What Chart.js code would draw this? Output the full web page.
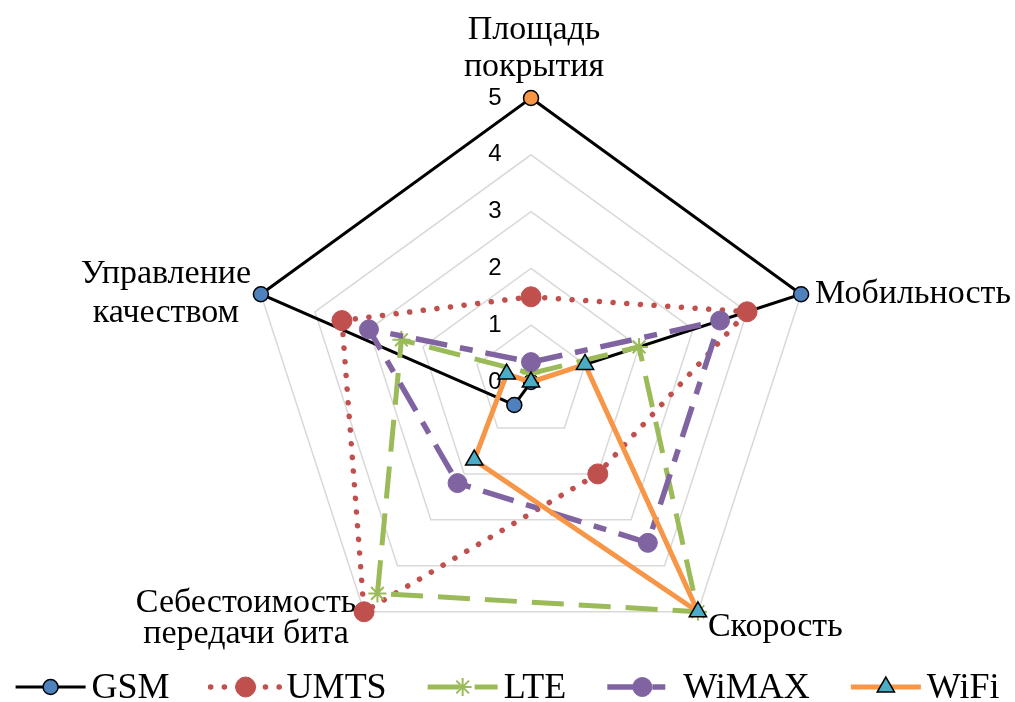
<!DOCTYPE html>
<html>
<head>
<meta charset="utf-8">
<script src="https://cdn.jsdelivr.net/npm/chart.js@4.4.1/dist/chart.umd.min.js"></script>
<style>
  html, body { margin: 0; padding: 0; background: #fff; }
  canvas { display: block; }
</style>
</head>
<body>
<canvas id="radar" width="1015" height="702"></canvas>
<script>
// Axes of the radar, clockwise from the top (multi-line captions)
const categories = [
  ['Площадь', 'покрытия'],
  ['Мобильность'],
  ['Скорость'],
  ['Себестоимость', 'передачи бита'],
  ['Управление', 'качеством']
];

// Ratings per technology, same order as the axes
const seriesNames = ['GSM', 'UMTS', 'LTE', 'WiMAX', 'WiFi'];
const gsmValues   = [5,    5,   0,   0.5, 5];
const umtsValues  = [1.5,  4,   2,   5,   3.5];
const lteValues   = [0.15, 2,   5,   4.6, 2.4];
const wimaxValues = [0.35, 3.5, 3.5, 2.2, 3];
const wifiValues  = [0,    1,   5,   1.7, 0.45];

// Radial scale range and tick step (tick labels 0..5)
const scaleMin = 0;
const scaleMax = 5;
const scaleStep = 1;

// Caption placement relative to the outer vertex of each axis
const captionLayout = [
  { dx: 3,    dy: [-59, -22], align: 'center' },
  { dx: 14,   dy: [9],        align: 'left' },
  { dx: 10,   dy: [24],       align: 'left' },
  { dx: -118, dy: [0, 31],    align: 'center' },
  { dx: -95,  dy: [-11, 28],  align: 'center' }
];

const serif = '"Liberation Serif", "Times New Roman", serif';
const sans = '"Liberation Sans", Arial, sans-serif';

// Tick numbers beside the vertical axis and the axis captions
const axisText = {
  id: 'axisText',
  beforeDatasetsDraw(chart) {
    const s = chart.scales.r;
    const ctx = chart.ctx;
    ctx.save();
    ctx.fillStyle = '#000';
    ctx.font = '24px ' + sans;
    ctx.textAlign = 'center';
    ctx.textBaseline = 'middle';
    s.ticks.forEach(t => {
      const p = s.getPointPosition(0, s.getDistanceFromCenterForValue(t.value));
      ctx.fillText(String(t.label), p.x - 36, p.y);
    });
    ctx.font = '34px ' + serif;
    ctx.textBaseline = 'alphabetic';
    chart.data.labels.forEach((lines, i) => {
      const p = s.getPointPosition(i, s.drawingArea);
      const L = captionLayout[i];
      ctx.textAlign = L.align;
      lines.forEach((line, k) => ctx.fillText(line, p.x + L.dx, p.y + L.dy[k]));
    });
    ctx.restore();
  }
};

// Legend row with line-and-marker swatches
const lineLegend = {
  id: 'lineLegend',
  afterDraw(chart) {
    const ctx = chart.ctx;
    const y = 687, sw = 70, tg = 6, ig = 41;
    ctx.save();
    ctx.font = '36px ' + serif;
    const sets = chart.data.datasets;
    const widths = sets.map(d => ctx.measureText(d.label).width);
    const total = widths.reduce((a, w) => a + w + sw + tg, 0) + ig * (sets.length - 1);
    let x = (chart.width - total) / 2;
    sets.forEach((d, i) => {
      ctx.save();
      ctx.strokeStyle = d.borderColor;
      ctx.lineWidth = d.borderWidth;
      ctx.lineCap = d.borderCapStyle || 'butt';
      ctx.setLineDash(d.borderDash || []);
      ctx.beginPath();
      ctx.moveTo(x, y);
      ctx.lineTo(x + sw, y);
      ctx.stroke();
      ctx.setLineDash([]);
      const bg = Array.isArray(d.pointBackgroundColor)
        ? d.pointBackgroundColor[d.pointBackgroundColor.length - 1]
        : d.pointBackgroundColor;
      ctx.fillStyle = bg;
      ctx.strokeStyle = d.pointBorderColor;
      ctx.lineWidth = d.pointBorderWidth;
      Chart.helpers.drawPoint(ctx, {
        pointStyle: d.pointStyle || 'circle',
        radius: d.pointRadius,
        borderWidth: d.pointBorderWidth,
        rotation: 0
      }, x + sw / 2, y);
      ctx.restore();
      ctx.fillStyle = '#000';
      ctx.textAlign = 'left';
      ctx.textBaseline = 'alphabetic';
      ctx.fillText(d.label, x + sw + tg, y + 11);
      x += sw + tg + widths[i] + ig;
    });
    ctx.restore();
  }
};

new Chart(document.getElementById('radar'), {
  type: 'radar',
  data: {
    labels: categories,
    datasets: [
      {
        label: seriesNames[0], data: gsmValues, order: 5, clip: false,
        borderColor: '#000000', borderWidth: 3, borderJoinStyle: 'miter',
        pointStyle: 'circle', pointRadius: 7.5,
        pointBackgroundColor: ['#f79646', '#4f81bd', '#4f81bd', '#4f81bd', '#4f81bd'],
        pointBorderColor: '#000000', pointBorderWidth: 1.5
      },
      {
        label: seriesNames[1], data: umtsValues, order: 4, clip: false,
        borderColor: '#c0504d', borderWidth: 5.5, borderDash: [0.1, 13.6], borderCapStyle: 'round',
        pointStyle: 'circle', pointRadius: 10,
        pointBackgroundColor: '#c0504d', pointBorderColor: '#c0504d', pointBorderWidth: 1
      },
      {
        label: seriesNames[2], data: lteValues, order: 3, clip: false,
        borderColor: '#9bbb59', borderWidth: 5, borderDash: [32, 15],
        pointStyle: 'star', pointRadius: 9,
        pointBackgroundColor: '#9bbb59', pointBorderColor: '#9bbb59', pointBorderWidth: 2
      },
      {
        label: seriesNames[3], data: wimaxValues, order: 2, clip: false,
        borderColor: '#8064a2', borderWidth: 5.5, borderDash: [32, 13, 13, 13],
        pointStyle: 'circle', pointRadius: 9.5,
        pointBackgroundColor: '#8064a2', pointBorderColor: '#8064a2', pointBorderWidth: 1
      },
      {
        label: seriesNames[4], data: wifiValues, order: 1, clip: false,
        borderColor: '#f79646', borderWidth: 5,
        pointStyle: 'triangle', pointRadius: 10,
        pointBackgroundColor: '#4bacc6', pointBorderColor: '#000000', pointBorderWidth: 1.5
      }
    ]
  },
  options: {
    responsive: false,
    animation: false,
    devicePixelRatio: 1,
    layout: { padding: { left: 247, right: 200, top: 98, bottom: 36 } },
    elements: { line: { tension: 0, fill: false, backgroundColor: 'transparent' } },
    plugins: {
      legend: { display: false },
      tooltip: { enabled: false },
      title: { display: false }
    },
    scales: {
      r: {
        min: scaleMin,
        max: scaleMax,
        ticks: { display: false, stepSize: scaleStep },
        pointLabels: { display: false },
        angleLines: { display: false },
        grid: { color: '#d9d9d9', lineWidth: 1.5 }
      }
    }
  },
  plugins: [axisText, lineLegend]
});
</script>
</body>
</html>
